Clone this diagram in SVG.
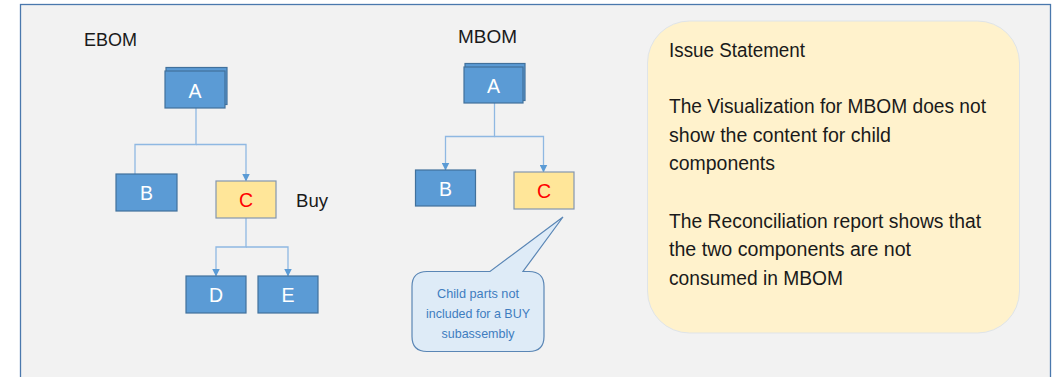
<svg xmlns="http://www.w3.org/2000/svg" width="1061" height="377" viewBox="0 0 1061 377">
<defs>
<style>
.t{font-family:"Liberation Sans",Arial,sans-serif;}
.lbl{font-size:19px;fill:#1a1a1a;}
.box{fill:#5b9bd5;stroke:#41719c;stroke-width:1.2;}
.buy{fill:#ffe699;stroke:#8497b0;stroke-width:1.2;}
.w{font-size:19.5px;fill:#ffffff;text-anchor:middle;}
.r{font-size:19.5px;fill:#ff0000;text-anchor:middle;}
.con{fill:none;stroke:#8fb8e2;stroke-width:1.3;}
.iss{font-size:19.5px;fill:#1a1a1a;}
.call{font-size:13.3px;fill:#3f7dbf;text-anchor:middle;}
</style>
<marker id="ah" viewBox="0 0 8 8" refX="7.5" refY="4" markerWidth="8" markerHeight="8" markerUnits="userSpaceOnUse" orient="auto">
<path d="M0,0 L8,4 L0,8 Z" fill="#5b9bd5"/>
</marker>
</defs>
<rect x="0" y="0" width="1061" height="377" fill="#ffffff"/>
<rect x="20.5" y="4.5" width="1030" height="380" fill="#f2f2f2" stroke="#4a78ad" stroke-width="1.3"/>

<text class="t lbl" x="84" y="46" textLength="53" lengthAdjust="spacingAndGlyphs">EBOM</text>
<text class="t lbl" x="458" y="43" textLength="59" lengthAdjust="spacingAndGlyphs">MBOM</text>
<text class="t lbl" x="296" y="207" textLength="32" lengthAdjust="spacingAndGlyphs">Buy</text>

<g id="connectors">
<polyline class="con" points="196,108 196,144.5 135,144.5 135,174"/>
<polyline class="con" points="196,144.5 246,144.5 246,181" marker-end="url(#ah)"/>
<polyline class="con" points="246,218 246,247 216,247 216,276" marker-end="url(#ah)"/>
<polyline class="con" points="246,247 288,247 288,276" marker-end="url(#ah)"/>
<polyline class="con" points="494.5,103 494.5,136.5 445.5,136.5 445.5,170" marker-end="url(#ah)"/>
<polyline class="con" points="494.5,136.5 543.5,136.5 543.5,172" marker-end="url(#ah)"/>
</g>

<g id="ebom-a">
<rect class="box" x="166" y="67.5" width="61" height="37"/>
<rect class="box" x="165" y="71" width="60" height="37"/>
<text class="t w" x="195" y="97.5">A</text>
</g>
<g id="ebom-b">
<rect class="box" x="116" y="174" width="61" height="37"/>
<text class="t w" x="146.5" y="200">B</text>
</g>
<g id="ebom-c">
<rect class="buy" x="216" y="181" width="60" height="37"/>
<text class="t r" x="246" y="207">C</text>
</g>
<g id="ebom-d">
<rect class="box" x="186" y="276" width="60" height="37"/>
<text class="t w" x="216" y="302">D</text>
</g>
<g id="ebom-e">
<rect class="box" x="258" y="276" width="60" height="37"/>
<text class="t w" x="288" y="302">E</text>
</g>

<g id="mbom-a">
<rect class="box" x="465" y="63.5" width="60" height="37"/>
<rect class="box" x="464" y="67" width="59" height="36"/>
<text class="t w" x="493.5" y="92.5">A</text>
</g>
<g id="mbom-b">
<rect class="box" x="415.5" y="170" width="60" height="36"/>
<text class="t w" x="445.5" y="195.5">B</text>
</g>
<g id="mbom-c">
<rect class="buy" x="514" y="172" width="60" height="37"/>
<text class="t r" x="544" y="198">C</text>
</g>

<g id="callout">
<path d="M427,271.5 L490,271.5 L563,217 L523,271.5 L529,271.5 Q544,271.5 544,286.5 L544,336.5 Q544,351.5 529,351.5 L427,351.5 Q412,351.5 412,336.5 L412,286.5 Q412,271.5 427,271.5 Z" fill="#deebf7" stroke="#5a86b5" stroke-width="1.2"/>
<text class="t call" x="478" y="298" textLength="82" lengthAdjust="spacingAndGlyphs">Child parts not</text>
<text class="t call" x="478" y="318" textLength="104" lengthAdjust="spacingAndGlyphs">included for a BUY</text>
<text class="t call" x="478" y="337.5" textLength="73" lengthAdjust="spacingAndGlyphs">subassembly</text>
</g>

<g id="issue">
<rect x="647.5" y="21" width="372" height="312" rx="42" ry="42" fill="#fff2cc" stroke="#dfe4e8" stroke-width="1"/>
<text class="t iss" x="669" y="56.5" textLength="136" lengthAdjust="spacingAndGlyphs">Issue Statement</text>
<text class="t iss" x="669" y="113" textLength="317" lengthAdjust="spacingAndGlyphs">The Visualization for MBOM does not</text>
<text class="t iss" x="669" y="141.5" textLength="222" lengthAdjust="spacingAndGlyphs">show the content for child</text>
<text class="t iss" x="669" y="170" textLength="106" lengthAdjust="spacingAndGlyphs">components</text>
<text class="t iss" x="669" y="227.5" textLength="312" lengthAdjust="spacingAndGlyphs">The Reconciliation report shows that</text>
<text class="t iss" x="669" y="256" textLength="242" lengthAdjust="spacingAndGlyphs">the two components are not</text>
<text class="t iss" x="669" y="284.5" textLength="174" lengthAdjust="spacingAndGlyphs">consumed in MBOM</text>
</g>
</svg>
